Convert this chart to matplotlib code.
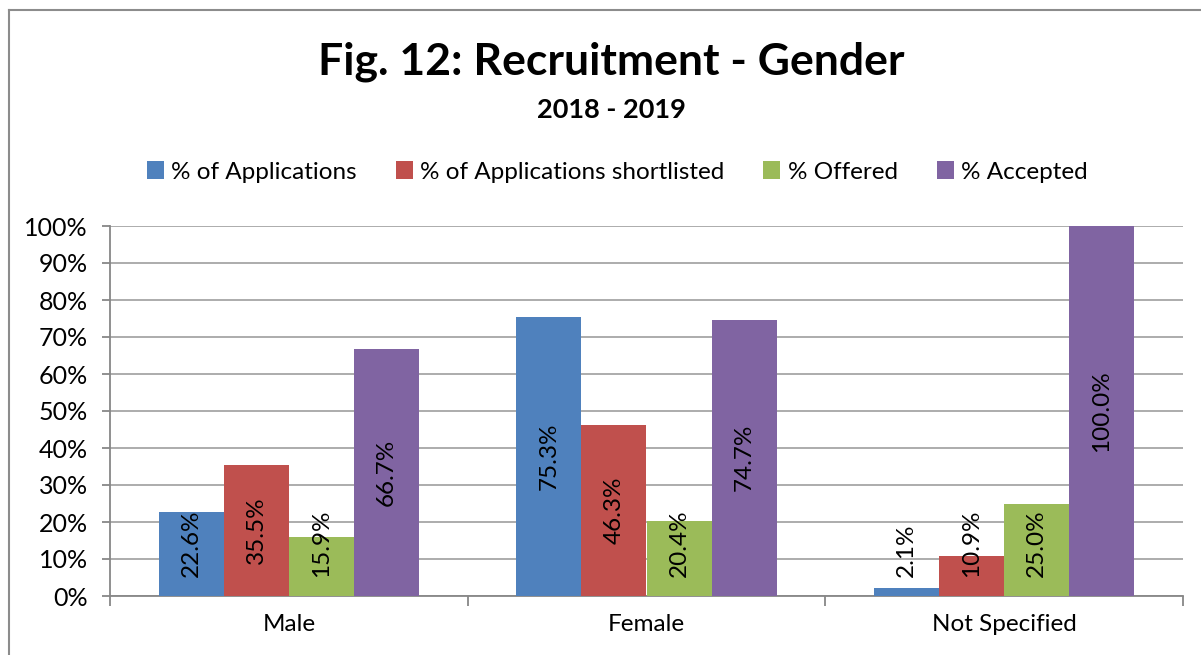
import numpy as np
import matplotlib.pyplot as plt
from matplotlib.ticker import PercentFormatter, FixedLocator
from matplotlib.lines import Line2D

plt.rcParams['font.family'] = ['Lato', 'DejaVu Sans']

categories = ["Male", "Female", "Not Specified"]
series_names = ["% of Applications", "% of Applications shortlisted", "% Offered", "% Accepted"]
applications = [22.6, 75.3, 2.1]
shortlisted = [35.5, 46.3, 10.9]
offered = [15.9, 20.4, 25.0]
accepted = [66.7, 74.7, 100.0]
colors = ["#4F81BD", "#C0504D", "#9BBB59", "#8064A2"]

values = [applications, shortlisted, offered, accepted]

fig = plt.figure(figsize=(12.01, 6.55), dpi=100)
ax = fig.add_axes([110 / 1201, 1 - 596 / 655, 1073 / 1201, 370 / 655])

x = np.arange(len(categories))
width = 0.182
bars = []
for i, (name, vals, c) in enumerate(zip(series_names, values, colors)):
    b = ax.bar(x + (i - 1.5) * width, np.array(vals) / 100, width, color=c, label=name,
               zorder=3)
    bars.append(b)

ax.set_xlim(-0.5, len(categories) - 0.5)
ax.set_ylim(0, 1)
ax.yaxis.set_major_locator(FixedLocator(np.arange(0, 1.01, 0.1)))
ax.yaxis.set_major_formatter(PercentFormatter(1.0, decimals=0))
ax.grid(axis='y', color='#A6A6A6', linewidth=1.3, zorder=0)
ax.set_axisbelow(True)

for side in ['top', 'right']:
    ax.spines[side].set_visible(False)
ax.spines['left'].set_color('#878787')
ax.spines['left'].set_linewidth(1.3)
ax.spines['bottom'].set_color('#878787')
ax.spines['bottom'].set_linewidth(1.3)

ax.set_xticks(x)
ax.set_xticklabels(categories, fontsize=17.5)
ax.tick_params(axis='x', length=0, pad=13)
ax.set_xticks(np.arange(-0.5, len(categories)), minor=True)
ax.tick_params(axis='x', which='minor', length=7, width=1.3, color='#878787', direction='out')
ax.tick_params(axis='y', length=6, width=1.3, color='#878787', labelsize=18, pad=10)

# value labels, centered in the bar unless the bar is too short
fig.canvas.draw()
renderer = fig.canvas.get_renderer()
px_per_unit = ax.transData.transform((0, 1))[1] - ax.transData.transform((0, 0))[1]
base_off = 19 / px_per_unit
for b, vals in zip(bars, values):
    for rect, v in zip(b, vals):
        cx = rect.get_x() + rect.get_width() / 2
        h = rect.get_height()
        t = ax.text(cx, h / 2, f"{v:.1f}%", rotation=90, ha='center', va='center',
                    fontsize=17.5, color='black', zorder=4)
        ext = t.get_window_extent(renderer)
        half = ext.height / 2 / px_per_unit
        if h / 2 - half < base_off:
            t.set_y(base_off + half)

fig.text(0.509, 1 - 62 / 655, "Fig. 12: Recruitment - Gender", ha='center', va='center',
         fontsize=32, fontweight='bold')
fig.text(0.509, 1 - 110 / 655, "2018 - 2019", ha='center', va='center',
         fontsize=19.5, fontweight='bold')

fig.legend(handles=[b for b in bars], labels=series_names, loc='center',
           bbox_to_anchor=(0.514, 1 - 172 / 655), ncol=4, frameon=False, fontsize=17.5,
           handlelength=0.7, handleheight=0.7, handletextpad=0.3, columnspacing=1.6)

# outer chart border
fig.add_artist(Line2D([8.5 / 1201, 8.5 / 1201], [0, 1 - 10 / 655], color='#8C8C8C', lw=1.5))
fig.add_artist(Line2D([8.5 / 1201, 1], [1 - 10 / 655, 1 - 10 / 655], color='#8C8C8C', lw=1.5))

fig.savefig("out.png", dpi=100)
